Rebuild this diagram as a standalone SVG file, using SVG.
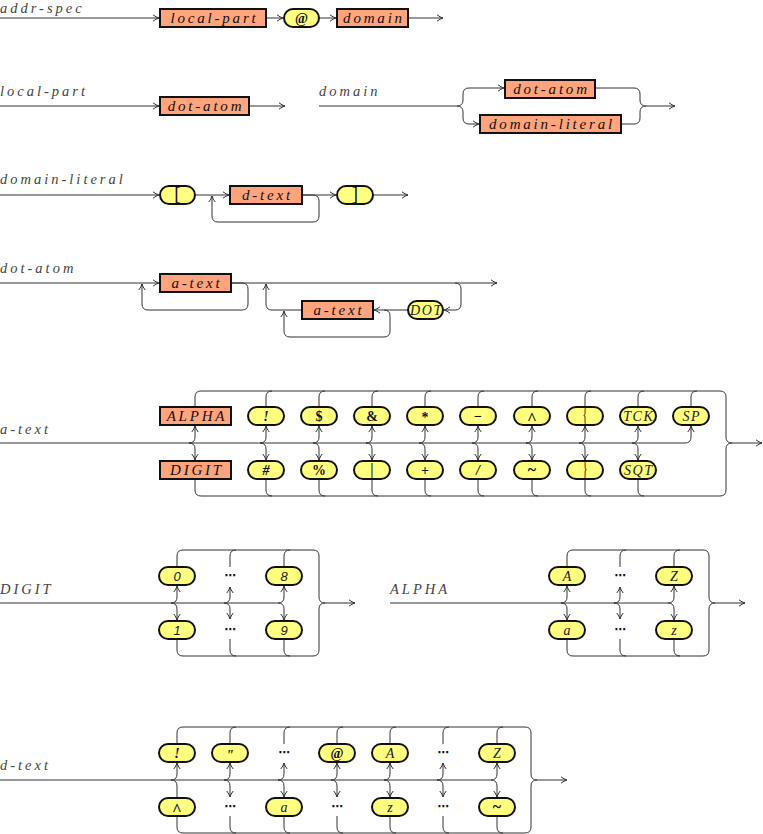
<svg xmlns="http://www.w3.org/2000/svg" width="763" height="834" viewBox="0 0 763 834">
<style>
.c{fill:none;stroke:#333;stroke-width:1}
.b{fill:#FFA47C;stroke:#111;stroke-width:2}
.p{fill:#FFFF80;stroke:#111;stroke-width:2}
.lbl{font-family:"Liberation Serif",serif;font-style:italic;font-size:14.5px;fill:#444;letter-spacing:3px}
.bt{font-family:"Liberation Serif",serif;font-style:italic;font-size:15px;fill:#111;letter-spacing:2.8px;text-anchor:middle}
.pt{font-family:"Liberation Serif",serif;font-style:italic;font-size:14px;fill:#222;letter-spacing:1.6px;text-anchor:middle}
.ps{font-family:"Liberation Serif",serif;font-weight:bold;font-size:14px;fill:#111;text-anchor:middle}
.pi{font-family:"Liberation Serif",serif;font-style:italic;font-weight:bold;font-size:14px;fill:#111;text-anchor:middle}
.dg{font-family:"Liberation Sans",sans-serif;font-style:italic;font-size:13px;fill:#222;text-anchor:middle}
.tall{font-family:"Liberation Serif",serif;font-size:19px;fill:#111;text-anchor:middle}
.dots{font-family:"DejaVu Sans",sans-serif;font-size:11px;font-weight:bold;fill:#111;text-anchor:middle}
</style>
<defs>
<marker id="a" viewBox="0 0 8 8" refX="7.5" refY="4" markerWidth="8" markerHeight="8" markerUnits="userSpaceOnUse" orient="auto">
<path d="M1.5,0.8 Q4.5,3.2 7.5,4 Q4.5,4.8 1.5,7.2" fill="none" stroke="#333" stroke-width="1"/>
</marker>
</defs>

<g id="labels">
<text class="lbl" x="0" y="13">addr-spec</text>
<text class="lbl" x="0" y="96">local-part</text>
<text class="lbl" x="319" y="96">domain</text>
<text class="lbl" x="0" y="184">domain-literal</text>
<text class="lbl" x="0" y="273">dot-atom</text>
<text class="lbl" x="0" y="434">a-text</text>
<text class="lbl" x="0" y="594">DIGIT</text>
<text class="lbl" x="390" y="594">ALPHA</text>
<text class="lbl" x="0" y="770">d-text</text>
</g>

<g id="connectors" class="c">
<path class="c" d="M0,18 H159" marker-end="url(#a)"/>
<path class="c" d="M266,18 H283" marker-end="url(#a)"/>
<path class="c" d="M319,18 H336" marker-end="url(#a)"/>
<path class="c" d="M408,18 H443" marker-end="url(#a)"/>
<path class="c" d="M0,106 H159" marker-end="url(#a)"/>
<path class="c" d="M249,106 H285" marker-end="url(#a)"/>
<path class="c" d="M319,106 H457"/>
<path class="c" d="M457,106 Q463,106 463,100 V94 Q463,88 469,88 H504" marker-end="url(#a)"/>
<path class="c" d="M457,106 Q463,106 463,112 V118 Q463,124 469,124 H479" marker-end="url(#a)"/>
<path class="c" d="M595,88 H634 Q640,88 640,94 V100 Q640,106 646,106"/>
<path class="c" d="M621,124 H634 Q640,124 640,118 V112 Q640,106 646,106"/>
<path class="c" d="M646,106 H675" marker-end="url(#a)"/>
<path class="c" d="M0,195 H159" marker-end="url(#a)"/>
<path class="c" d="M195,195 H229" marker-end="url(#a)"/>
<path class="c" d="M302,195 H336" marker-end="url(#a)"/>
<path class="c" d="M373,195 H408" marker-end="url(#a)"/>
<path class="c" d="M302,195 H313 Q319,195 319,201 V216 Q319,222 313,222 H218 Q212,222 212,216 V196" marker-end="url(#a)"/>
<path class="c" d="M0,283 H159" marker-end="url(#a)"/>
<path class="c" d="M231,283 H242 Q248,283 248,289 V304 Q248,310 242,310 H148 Q142,310 142,304 V284" marker-end="url(#a)"/>
<path class="c" d="M231,283 H497" marker-end="url(#a)"/>
<path class="c" d="M455,283 Q461,283 461,289 V304 Q461,310 455,310 H444" marker-end="url(#a)"/>
<path class="c" d="M408,310 H374" marker-end="url(#a)"/>
<path class="c" d="M302,310 H272 Q266,310 266,304 V284" marker-end="url(#a)"/>
<path class="c" d="M384,310 Q390,310 390,316 V331 Q390,337 384,337 H290 Q284,337 284,331 V311" marker-end="url(#a)"/>
<path class="c" d="M0,443 H685"/>
<path class="c" d="M189,443 Q195,443 195,437 V426" marker-end="url(#a)"/>
<path class="c" d="M260,443 Q266,443 266,437 V426" marker-end="url(#a)"/>
<path class="c" d="M313,443 Q319,443 319,437 V426" marker-end="url(#a)"/>
<path class="c" d="M366,443 Q372,443 372,437 V426" marker-end="url(#a)"/>
<path class="c" d="M419,443 Q425,443 425,437 V426" marker-end="url(#a)"/>
<path class="c" d="M472,443 Q478,443 478,437 V426" marker-end="url(#a)"/>
<path class="c" d="M526,443 Q532,443 532,437 V426" marker-end="url(#a)"/>
<path class="c" d="M579,443 Q585,443 585,437 V426" marker-end="url(#a)"/>
<path class="c" d="M632,443 Q638,443 638,437 V426" marker-end="url(#a)"/>
<path class="c" d="M685,443 Q691,443 691,437 V426" marker-end="url(#a)"/>
<path class="c" d="M189,443 Q195,443 195,449 V460" marker-end="url(#a)"/>
<path class="c" d="M260,443 Q266,443 266,449 V460" marker-end="url(#a)"/>
<path class="c" d="M313,443 Q319,443 319,449 V460" marker-end="url(#a)"/>
<path class="c" d="M366,443 Q372,443 372,449 V460" marker-end="url(#a)"/>
<path class="c" d="M419,443 Q425,443 425,449 V460" marker-end="url(#a)"/>
<path class="c" d="M472,443 Q478,443 478,449 V460" marker-end="url(#a)"/>
<path class="c" d="M526,443 Q532,443 532,449 V460" marker-end="url(#a)"/>
<path class="c" d="M579,443 Q585,443 585,449 V460" marker-end="url(#a)"/>
<path class="c" d="M632,443 Q638,443 638,449 V460" marker-end="url(#a)"/>
<path class="c" d="M195,407 V397 Q195,391 201,391 M266,407 V397 Q266,391 272,391 M319,407 V397 Q319,391 325,391 M372,407 V397 Q372,391 378,391 M425,407 V397 Q425,391 431,391 M478,407 V397 Q478,391 484,391 M532,407 V397 Q532,391 538,391 M585,407 V397 Q585,391 591,391 M638,407 V397 Q638,391 644,391 M691,407 V397 Q691,391 697,391"/>
<path class="c" d="M195,479 V490 Q195,496 201,496 M266,479 V490 Q266,496 272,496 M319,479 V490 Q319,496 325,496 M372,479 V490 Q372,496 378,496 M425,479 V490 Q425,496 431,496 M478,479 V490 Q478,496 484,496 M532,479 V490 Q532,496 538,496 M585,479 V490 Q585,496 591,496 M638,479 V490 Q638,496 644,496"/>
<path class="c" d="M201,391 H720 Q726,391 726,397 V437 Q726,443 732,443"/>
<path class="c" d="M201,496 H720 Q726,496 726,490 V449 Q726,443 732,443"/>
<path class="c" d="M732,443 H762" marker-end="url(#a)"/>
<path class="c" d="M0,603 H278"/>
<path class="c" d="M171,603 Q177,603 177,597 V586" marker-end="url(#a)"/>
<path class="c" d="M224,603 Q230,603 230,597 V587" marker-end="url(#a)"/>
<path class="c" d="M278,603 Q284,603 284,597 V586" marker-end="url(#a)"/>
<path class="c" d="M171,603 Q177,603 177,609 V620" marker-end="url(#a)"/>
<path class="c" d="M224,603 Q230,603 230,609 V619" marker-end="url(#a)"/>
<path class="c" d="M278,603 Q284,603 284,609 V620" marker-end="url(#a)"/>
<path class="c" d="M177,567 V556 Q177,550 183,550 M230,567 V556 Q230,550 236,550 M284,567 V556 Q284,550 290,550"/>
<path class="c" d="M177,639 V650 Q177,656 183,656 M230,639 V650 Q230,656 236,656 M284,639 V650 Q284,656 290,656"/>
<path class="c" d="M183,550 H313 Q319,550 319,556 V597 Q319,603 325,603"/>
<path class="c" d="M183,656 H313 Q319,656 319,650 V609 Q319,603 325,603"/>
<path class="c" d="M325,603 H355" marker-end="url(#a)"/>
<path class="c" d="M390,603 H668"/>
<path class="c" d="M561,603 Q567,603 567,597 V586" marker-end="url(#a)"/>
<path class="c" d="M614,603 Q620,603 620,597 V587" marker-end="url(#a)"/>
<path class="c" d="M668,603 Q674,603 674,597 V586" marker-end="url(#a)"/>
<path class="c" d="M561,603 Q567,603 567,609 V620" marker-end="url(#a)"/>
<path class="c" d="M614,603 Q620,603 620,609 V619" marker-end="url(#a)"/>
<path class="c" d="M668,603 Q674,603 674,609 V620" marker-end="url(#a)"/>
<path class="c" d="M567,567 V556 Q567,550 573,550 M620,567 V556 Q620,550 626,550 M674,567 V556 Q674,550 680,550"/>
<path class="c" d="M567,639 V650 Q567,656 573,656 M620,639 V650 Q620,656 626,656 M674,639 V650 Q674,656 680,656"/>
<path class="c" d="M573,550 H703 Q709,550 709,556 V597 Q709,603 715,603"/>
<path class="c" d="M573,656 H703 Q709,656 709,650 V609 Q709,603 715,603"/>
<path class="c" d="M715,603 H745" marker-end="url(#a)"/>
<path class="c" d="M0,780 H491"/>
<path class="c" d="M171,780 Q177,780 177,774 V763" marker-end="url(#a)"/>
<path class="c" d="M224,780 Q230,780 230,774 V763" marker-end="url(#a)"/>
<path class="c" d="M278,780 Q284,780 284,774 V763" marker-end="url(#a)"/>
<path class="c" d="M331,780 Q337,780 337,774 V763" marker-end="url(#a)"/>
<path class="c" d="M384,780 Q390,780 390,774 V763" marker-end="url(#a)"/>
<path class="c" d="M437,780 Q443,780 443,774 V763" marker-end="url(#a)"/>
<path class="c" d="M491,780 Q497,780 497,774 V763" marker-end="url(#a)"/>
<path class="c" d="M171,780 Q177,780 177,786 V798"/>
<path class="c" d="M224,780 Q230,780 230,786 V797" marker-end="url(#a)"/>
<path class="c" d="M278,780 Q284,780 284,786 V797" marker-end="url(#a)"/>
<path class="c" d="M331,780 Q337,780 337,786 V797" marker-end="url(#a)"/>
<path class="c" d="M384,780 Q390,780 390,786 V797" marker-end="url(#a)"/>
<path class="c" d="M437,780 Q443,780 443,786 V797" marker-end="url(#a)"/>
<path class="c" d="M491,780 Q497,780 497,786 V797" marker-end="url(#a)"/>
<path class="c" d="M177,744 V733 Q177,727 183,727 M230,744 V733 Q230,727 236,727 M284,744 V733 Q284,727 290,727 M337,744 V733 Q337,727 343,727 M390,744 V733 Q390,727 396,727 M443,744 V733 Q443,727 449,727 M497,744 V733 Q497,727 503,727"/>
<path class="c" d="M177,816 V827 Q177,833 183,833 M230,816 V827 Q230,833 236,833 M284,816 V827 Q284,833 290,833 M337,816 V827 Q337,833 343,833 M390,816 V827 Q390,833 396,833 M443,816 V827 Q443,833 449,833 M497,816 V827 Q497,833 503,833"/>
<path class="c" d="M183,727 H525 Q531,727 531,733 V774 Q531,780 537,780"/>
<path class="c" d="M183,833 H525 Q531,833 531,827 V786 Q531,780 537,780"/>
<path class="c" d="M537,780 H567" marker-end="url(#a)"/>
</g>

<g id="n-localpart"><rect class="b" x="160" y="9" width="106" height="18"/><text class="bt" x="214.5" y="23">local-part</text></g>
<g id="n-at"><rect class="p" x="284" y="9" width="35" height="18" rx="9"/><text class="ps" x="301.5" y="23">@</text></g>
<g id="n-domain"><rect class="b" x="337" y="9" width="71" height="18"/><text class="bt" x="374" y="23">domain</text></g>
<g id="n-dotatom1"><rect class="b" x="160" y="97" width="89" height="18"/><text class="bt" x="206" y="111">dot-atom</text></g>
<g id="n-dotatom2"><rect class="b" x="505" y="80" width="90" height="18"/><text class="bt" x="551.5" y="94">dot-atom</text></g>
<g id="n-domainliteral"><rect class="b" x="480" y="115" width="141" height="18"/><text class="bt" x="552" y="129">domain-literal</text></g>
<g id="n-lbrack"><rect class="p" x="160" y="186" width="35" height="18" rx="9"/><text class="tall" x="177.5" y="200">[</text></g>
<g id="n-dtext"><rect class="b" x="230" y="186" width="72" height="18"/><text class="bt" x="267.5" y="200">d-text</text></g>
<g id="n-rbrack"><rect class="p" x="337" y="186" width="36" height="18" rx="9"/><text class="tall" x="355" y="200">]</text></g>
<g id="n-atext1"><rect class="b" x="160" y="274" width="71" height="18"/><text class="bt" x="197" y="288">a-text</text></g>
<g id="n-atext2"><rect class="b" x="302" y="301" width="71" height="18"/><text class="bt" x="339" y="315">a-text</text></g>
<g id="n-dot"><rect class="p" x="408" y="301" width="35" height="18" rx="9"/><text class="pt" x="426.5" y="315">DOT</text></g>
<g id="n-alpha"><rect class="b" x="160" y="407" width="71" height="18"/><text class="bt" x="197" y="421">ALPHA</text></g>
<g id="n-digit"><rect class="b" x="160" y="461" width="71" height="18"/><text class="bt" x="197" y="475">DIGIT</text></g>
<g id="n-excl"><rect class="p" x="248" y="407" width="36" height="18" rx="9"/><text class="pi" x="266" y="421">!</text></g>
<g id="n-hash"><rect class="p" x="248" y="461" width="36" height="18" rx="9"/><text class="pi" x="266" y="475">#</text></g>
<g id="n-dollar"><rect class="p" x="301" y="407" width="36" height="18" rx="9"/><text class="ps" x="319" y="421">$</text></g>
<g id="n-percent"><rect class="p" x="301" y="461" width="36" height="18" rx="9"/><text class="ps" x="319" y="475">%</text></g>
<g id="n-amp"><rect class="p" x="354" y="407" width="36" height="18" rx="9"/><text class="ps" x="372" y="421">&amp;</text></g>
<g id="n-bar"><rect class="p" x="354" y="461" width="36" height="18" rx="9"/><text class="tall" x="372" y="476">|</text></g>
<g id="n-star"><rect class="p" x="407" y="407" width="36" height="18" rx="9"/><text class="ps" x="425" y="422">*</text></g>
<g id="n-plus"><rect class="p" x="407" y="461" width="36" height="18" rx="9"/><text class="ps" x="425" y="475">+</text></g>
<g id="n-minus"><rect class="p" x="460" y="407" width="36" height="18" rx="9"/><text class="ps" x="478" y="421">−</text></g>
<g id="n-slash"><rect class="p" x="460" y="461" width="36" height="18" rx="9"/><text class="pi" x="478" y="475">/</text></g>
<g id="n-hat"><rect class="p" x="514" y="407" width="36" height="18" rx="9"/><text class="ps" x="532" y="424" style="font-size:17px">^</text></g>
<g id="n-tilde"><rect class="p" x="514" y="461" width="36" height="18" rx="9"/><text class="ps" x="532" y="474.5" style="font-size:16px">~</text></g>
<g id="n-lbrace"><rect class="p" x="567" y="407" width="36" height="18" rx="9"/><text class="tall" transform="translate(585,416) scale(0.55,1.05)" x="0" y="5">{</text></g>
<g id="n-rbrace"><rect class="p" x="567" y="461" width="36" height="18" rx="9"/><text class="tall" transform="translate(585,470) scale(0.55,1.05)" x="0" y="5">}</text></g>
<g id="n-tck"><rect class="p" x="620" y="407" width="36" height="18" rx="9"/><text class="pt" x="638.8" y="421">TCK</text></g>
<g id="n-sqt"><rect class="p" x="620" y="461" width="36" height="18" rx="9"/><text class="pt" x="638.8" y="475">SQT</text></g>
<g id="n-sp"><rect class="p" x="673" y="407" width="36" height="18" rx="9"/><text class="pt" x="691.8" y="421">SP</text></g>
<g id="n-d0"><rect class="p" x="159" y="567" width="36" height="18" rx="9"/><text class="dg" x="177" y="581">0</text></g>
<g id="n-d1"><rect class="p" x="159" y="621" width="36" height="18" rx="9"/><text class="dg" x="177" y="635">1</text></g>
<g id="n-ddots1"><text class="dots" x="230" y="579">⋯</text></g>
<g id="n-ddots2"><text class="dots" x="230" y="633">⋯</text></g>
<g id="n-d8"><rect class="p" x="266" y="567" width="36" height="18" rx="9"/><text class="dg" x="284" y="581">8</text></g>
<g id="n-d9"><rect class="p" x="266" y="621" width="36" height="18" rx="9"/><text class="dg" x="284" y="635">9</text></g>
<g id="n-aA"><rect class="p" x="549" y="567" width="36" height="18" rx="9"/><text class="pt" x="567.8" y="581">A</text></g>
<g id="n-aa"><rect class="p" x="549" y="621" width="36" height="18" rx="9"/><text class="pt" x="567.8" y="635">a</text></g>
<g id="n-adots1"><text class="dots" x="620" y="579">⋯</text></g>
<g id="n-adots2"><text class="dots" x="620" y="633">⋯</text></g>
<g id="n-aZ"><rect class="p" x="656" y="567" width="36" height="18" rx="9"/><text class="pt" x="674.8" y="581">Z</text></g>
<g id="n-az"><rect class="p" x="656" y="621" width="36" height="18" rx="9"/><text class="pt" x="674.8" y="635">z</text></g>
<g id="n-t-excl"><rect class="p" x="159" y="744" width="36" height="18" rx="9"/><text class="pi" x="177" y="758">!</text></g>
<g id="n-t-hat"><rect class="p" x="159" y="798" width="36" height="18" rx="9"/><text class="ps" x="177" y="815" style="font-size:17px">^</text></g>
<g id="n-t-quot"><rect class="p" x="212" y="744" width="36" height="18" rx="9"/><text class="pi" x="230" y="760">"</text></g>
<g id="n-t-dots1"><text class="dots" x="230" y="810">⋯</text></g>
<g id="n-t-dots2"><text class="dots" x="284" y="756">⋯</text></g>
<g id="n-t-a"><rect class="p" x="266" y="798" width="36" height="18" rx="9"/><text class="pt" x="284.8" y="812">a</text></g>
<g id="n-t-at"><rect class="p" x="319" y="744" width="36" height="18" rx="9"/><text class="ps" x="337" y="758">@</text></g>
<g id="n-t-dots3"><text class="dots" x="337" y="810">⋯</text></g>
<g id="n-t-A"><rect class="p" x="372" y="744" width="36" height="18" rx="9"/><text class="pt" x="390.8" y="758">A</text></g>
<g id="n-t-z"><rect class="p" x="372" y="798" width="36" height="18" rx="9"/><text class="pt" x="390.8" y="812">z</text></g>
<g id="n-t-dots4"><text class="dots" x="443" y="756">⋯</text></g>
<g id="n-t-dots5"><text class="dots" x="443" y="810">⋯</text></g>
<g id="n-t-Z"><rect class="p" x="479" y="744" width="36" height="18" rx="9"/><text class="pt" x="497.8" y="758">Z</text></g>
<g id="n-t-tilde"><rect class="p" x="479" y="798" width="36" height="18" rx="9"/><text class="ps" x="497" y="811.5" style="font-size:16px">~</text></g>
</svg>
